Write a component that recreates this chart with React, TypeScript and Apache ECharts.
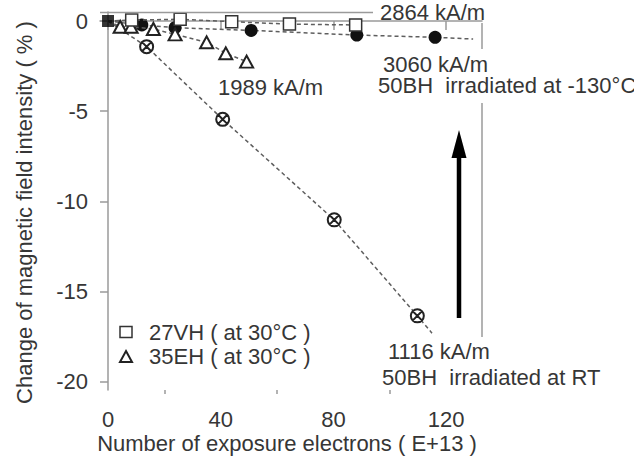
import React, { useEffect, useRef } from "react";
import * as echarts from "echarts";

// ---- axes ----
const xMajorTicks = [0, 40, 80, 120];
const xMinorTicks = [20, 60, 100];
const yTicks = [0, -5, -10, -15, -20];

// ---- data (x: exposure electrons E+13, y: change %) ----
const origin = [0, 0];

// 50BH irradiated at RT (⊗)
const rtX = [13.7, 40.7, 80.3, 109.8];
const rtY = [-1.42, -5.45, -11.02, -16.34];
const rtTail = [115, -17.3];

// 50BH irradiated at -130°C (filled circles)
const lowX = [12, 23.8, 50.8, 88.3, 116.1];
const lowY = [-0.22, -0.37, -0.52, -0.78, -0.9];
const lowTail = [129.6, -1.0];

// 27VH at 30°C (open squares)
const vhX = [8.4, 25.6, 43.9, 64.4, 87.9];
const vhY = [0.05, 0.1, -0.04, -0.17, -0.22];

// 35EH at 30°C (open triangles)
const ehX = [4.3, 8.2, 16.1, 23.8, 35, 41.8, 49.2];
const ehY = [-0.32, -0.32, -0.44, -0.74, -1.18, -1.79, -2.25];

const vhName = "27VH ( at 30°C )";
const ehName = "35EH ( at 30°C )";

const FONT = '"Liberation Sans", Arial, Helvetica, sans-serif';
const TXT = "#363636";
const AX = "#9a9a9a";
const LINE = "#5e5e5e";

const otimesPath =
  "path://M10,0A10,10,0,1,1,10,20A10,10,0,1,1,10,0ZM3,3L17,17M17,3L3,17";

function pts(xs: number[], ys: number[]) {
  return xs.map((x, i) => [x, ys[i]]);
}
function lineData(xs: number[], ys: number[], tail?: number[]) {
  const d: any[] = [{ value: origin, symbol: "none" }, ...pts(xs, ys)];
  if (tail) d.push({ value: tail, symbol: "none" });
  return d;
}

export default function App() {
  const ref = useRef<HTMLDivElement>(null);
  useEffect(() => {
    if (!ref.current) return;
    const chart = echarts.init(ref.current, undefined, { renderer: "svg" });
    const dashed = { color: LINE, width: 1.5, type: [4, 3] as any };
    const text = (t: string, x: number, y: number, extra: any = {}) => ({
      type: "text",
      x,
      y,
      style: {
        text: t,
        fontSize: 22,
        lineHeight: 19,
        fontFamily: FONT,
        fill: TXT,
        align: "left",
        verticalAlign: "middle",
        ...extra,
      },
      z: 10,
    });
    const frame = (x1: number, y1: number, x2: number, y2: number) => ({
      type: "line",
      shape: { x1, y1, x2, y2 },
      style: { stroke: AX, lineWidth: 1.5 },
      z: 5,
    });
    chart.setOption({
      animation: false,
      backgroundColor: "#fff",
      grid: { left: 100, top: 12, width: 382, height: 378, containLabel: false },
      xAxis: [
        {
          type: "value",
          min: -2.85,
          max: 132.75,
          axisLine: { show: true, lineStyle: { color: AX, width: 1.5 } },
          axisTick: { show: true, customValues: xMajorTicks, length: 9, lineStyle: { color: AX, width: 1.5 } },
          axisLabel: {
            customValues: xMajorTicks,
            margin: 18,
            fontSize: 22,
            fontFamily: FONT,
            color: TXT,
          },
          splitLine: { show: false },
        },
        {
          type: "value",
          min: -2.85,
          max: 132.75,
          position: "bottom",
          axisLine: { show: false },
          axisTick: { show: true, customValues: xMinorTicks, length: 4, lineStyle: { color: AX, width: 1.5 } },
          axisLabel: { show: false },
          splitLine: { show: false },
        },
      ],
      yAxis: {
        type: "value",
        min: -20.45,
        max: 0.5,
        axisLine: { show: true, lineStyle: { color: AX, width: 1.5 } },
        axisTick: { show: true, customValues: yTicks, length: 8, lineStyle: { color: AX, width: 1.5 } },
        axisLabel: {
          customValues: yTicks,
          margin: 12,
          fontSize: 22,
          fontFamily: FONT,
          color: TXT,
        },
        splitLine: { show: false },
      },
      legend: {
        orient: "vertical",
        left: 114,
        top: 316,
        itemWidth: 12,
        itemHeight: 11,
        itemGap: 2.5,
        selectedMode: false,
        textStyle: { fontSize: 22, fontFamily: FONT, color: TXT, padding: [0, 0, 0, 12] },
        data: [
          { name: vhName, icon: "rect", itemStyle: { color: "#fff", borderColor: "#333", borderWidth: 1.5 } },
          { name: ehName, icon: "triangle", itemStyle: { color: "#fff", borderColor: "#222", borderWidth: 2 } },
        ],
      },
      series: [
        {
          name: "50BH RT",
          type: "line",
          data: lineData(rtX, rtY, rtTail),
          symbol: otimesPath,
          symbolSize: 13,
          lineStyle: dashed,
          itemStyle: { color: "#fff", borderColor: "#222", borderWidth: 2 },
          z: 3,
        },
        {
          name: "50BH -130",
          type: "line",
          data: lineData(lowX, lowY, lowTail),
          symbol: "circle",
          symbolSize: 13,
          lineStyle: dashed,
          itemStyle: { color: "#111", borderColor: "#111", borderWidth: 0 },
          z: 3,
        },
        {
          name: ehName,
          type: "line",
          data: lineData(ehX, ehY),
          symbol: "triangle",
          symbolSize: [13, 12],
          lineStyle: dashed,
          itemStyle: { color: "#fff", borderColor: "#222", borderWidth: 2 },
          z: 4,
        },
        {
          name: vhName,
          type: "line",
          data: lineData(vhX, vhY),
          symbol: "rect",
          symbolSize: [12, 12],
          lineStyle: dashed,
          itemStyle: { color: "#fff", borderColor: "#333", borderWidth: 1.5 },
          z: 4,
        },
        {
          name: "origin",
          type: "scatter",
          data: [origin],
          symbol: "rect",
          symbolSize: 12,
          itemStyle: { color: "#000" },
          z: 6,
        },
      ],
      graphic: [
        frame(100, 12.5, 373, 12.5),
        frame(482, 23, 482, 49),
        frame(482, 103, 482, 337),
        text("2864 kA/m", 380, 12),
        text("3060 kA/m", 383, 64),
        text("50BH  irradiated at -130°C", 378, 85),
        text("1989 kA/m", 218, 87.5),
        text("1116 kA/m", 388, 351.5),
        text("50BH  irradiated at RT", 382, 377),
        text("Number of exposure electrons ( E+13 )", 287, 443, { align: "center" }),
        {
          type: "text",
          x: 24,
          y: 212.5,
          rotation: Math.PI / 2,
          style: {
            text: "Change of magnetic field intensity ( % )",
            fontSize: 22,
            fontFamily: FONT,
            fill: TXT,
            align: "center",
            verticalAlign: "middle",
          },
          z: 10,
        },
        {
          type: "line",
          shape: { x1: 459, y1: 318, x2: 459, y2: 152 },
          style: { stroke: "#000", lineWidth: 4.5 },
          z: 10,
        },
        {
          type: "polygon",
          shape: { points: [[451.5, 158], [466.5, 158], [459, 130]] },
          style: { fill: "#000" },
          z: 10,
        },
      ],
    });
    return () => chart.dispose();
  }, []);
  return (
    <div
      ref={ref}
      style={{ position: "fixed", left: 0, top: 0, width: 634, height: 459, background: "#fff" }}
    />
  );
}
